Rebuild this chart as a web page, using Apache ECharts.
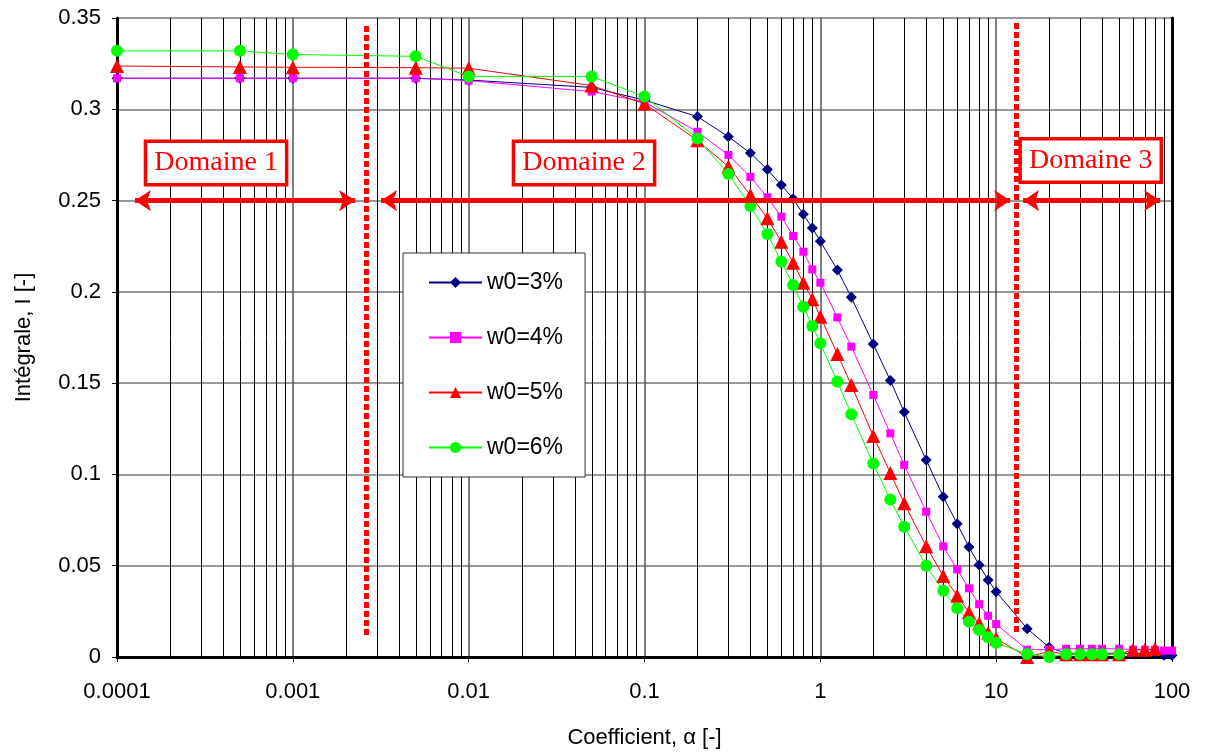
<!DOCTYPE html>
<html><head><meta charset="utf-8">
<script src="https://cdn.jsdelivr.net/npm/echarts@6/dist/echarts.min.js"></script>
<style>html,body{margin:0;padding:0;background:#fff}#c{width:1205px;height:756px}</style>
</head><body><div id="c"></div>
<script>
// ---- data ----
const alpha = [0.0001, 0.0005, 0.001, 0.005, 0.01, 0.05, 0.1, 0.2, 0.3, 0.4, 0.5, 0.6, 0.7, 0.8, 0.9, 1, 1.25, 1.5, 2, 2.5, 3, 4, 5, 6, 7, 8, 9, 10, 15, 20, 25, 30, 35, 40, 50, 60, 70, 80, 90, 100];
const w3 = [0.317, 0.317, 0.317, 0.317, 0.316, 0.312, 0.305, 0.296, 0.285, 0.276, 0.267, 0.2585, 0.251, 0.2425, 0.235, 0.2277, 0.212, 0.197, 0.1714, 0.1515, 0.1342, 0.1079, 0.0878, 0.073, 0.0603, 0.0504, 0.0422, 0.0358, 0.0155, 0.0054, 0.002, 0.002, 0.002, 0.002, 0.002, 0.002, 0.002, 0.002, 0.001, 0.001];
const w4 = [0.317, 0.317, 0.317, 0.317, 0.3157, 0.3097, 0.304, 0.2877, 0.275, 0.263, 0.2518, 0.2412, 0.2306, 0.222, 0.2123, 0.205, 0.186, 0.170, 0.1435, 0.1225, 0.1052, 0.0796, 0.0606, 0.048, 0.0376, 0.0289, 0.0226, 0.018, 0.004, 0.004, 0.0045, 0.0045, 0.0045, 0.0045, 0.0045, 0.004, 0.004, 0.004, 0.0035, 0.0035];
const w5 = [0.3237, 0.3232, 0.323, 0.3228, 0.3225, 0.313, 0.303, 0.283, 0.2686, 0.253, 0.2403, 0.2275, 0.216, 0.205, 0.196, 0.1864, 0.166, 0.149, 0.121, 0.1008, 0.0842, 0.0606, 0.0444, 0.0336, 0.0245, 0.0185, 0.0133, 0.0102, 0.0, 0.003, 0.0015, 0.0015, 0.0015, 0.0015, 0.0015, 0.004, 0.004, 0.0045];
const w6 = [0.332, 0.332, 0.330, 0.329, 0.318, 0.318, 0.307, 0.284, 0.2646, 0.247, 0.2317, 0.2165, 0.2038, 0.1919, 0.1813, 0.1718, 0.1508, 0.133, 0.106, 0.0862, 0.0714, 0.050, 0.0363, 0.0267, 0.0193, 0.0148, 0.0108, 0.0078, 0.0016, 0.0, 0.0015, 0.0015, 0.0015, 0.0015, 0.0015];
const seriesNames = ['w0=3%', 'w0=4%', 'w0=5%', 'w0=6%'];
const xTickLabels = ['0.0001', '0.001', '0.01', '0.1', '1', '10', '100'];
const decades = [0.0001, 0.001, 0.01, 0.1, 1, 10];
const minorMultipliers = [2, 3, 4, 5, 6, 7, 8, 9];
const boundaryX = [0.00261, 13.0];
const boundaryY = [[0.012, 0.3462], [0.0137, 0.3478]];
const domainLabels = ['Domaine 1', 'Domaine 2', 'Domaine 3'];
const domainLabelPos = [[0.000366, 0.2706], [0.0453, 0.2706], [34.5, 0.272]];
const arrowY = 0.25;
const arrowRanges = [[1.266e-4, 0.00226], [0.003176, 12.02], [14.24, 85.7]];

// ---- build ----
const pairs = vals => vals.map((v, i) => [alpha[i], v]);
const minorX = [];
decades.forEach(d => minorMultipliers.forEach(m => minorX.push(d * m)));

const font = 'Liberation Sans, Arial, sans-serif';
const styles = [
  {color: '#000080', symbol: 'diamond', size: 11},
  {color: '#FF00FF', symbol: 'rect', size: 8},
  {color: '#FF0000', symbol: 'triangle', size: 14},
  {color: '#00FF00', symbol: 'circle', size: 12}
];
const vals = [w3, w4, w5, w6];

const series = [
  { // minor vertical grid
    type: 'custom', z: 1, silent: true, clip: true,
    data: minorX.map(v => [v]),
    renderItem: (params, api) => {
      const p0 = api.coord([api.value(0), 0]);
      const p1 = api.coord([api.value(0), 0.35]);
      return {type: 'line', shape: {x1: Math.round(p0[0]) + 0.5, y1: p0[1], x2: Math.round(p1[0]) + 0.5, y2: p1[1]},
        style: {stroke: '#000', lineWidth: 1}};
    },
    encode: {x: 0}
  },
  { // domain boundaries
    type: 'line', data: [], z: 2, silent: true,
    markLine: {silent: true, animation: false, label: {show: false},
      symbol: 'none',
      lineStyle: {color: '#FF0000', width: 5, type: [6, 3], cap: 'butt'},
      data: boundaryX.map((b, i) => [{coord: [b, boundaryY[i][0]]}, {coord: [b, boundaryY[i][1]]}])}
  },
  { // arrows
    type: 'line', data: [], z: 2, silent: true,
    markLine: {silent: true, animation: false, label: {show: false},
      symbol: ['arrow', 'arrow'], symbolSize: [16, 16],
      lineStyle: {color: '#FF0000', width: 5, type: 'solid'},
      itemStyle: {color: '#FF0000'},
      data: arrowRanges.map(r => [{coord: [r[0], arrowY]}, {coord: [r[1], arrowY]}])}
  },
  { // domain labels
    type: 'line', data: [], z: 5, silent: true,
    markPoint: {silent: true, animation: false, symbol: 'rect', symbolSize: 1,
      itemStyle: {color: 'rgba(0,0,0,0)'},
      label: {show: true, position: 'inside', color: '#FF0000', fontFamily: 'Liberation Serif, Times New Roman, serif',
        fontSize: 28, lineHeight: 30, backgroundColor: '#fff', borderColor: '#FF0000', borderWidth: 3.5,
        padding: [5, 7], formatter: p => p.name},
      data: domainLabels.map((t, i) => ({name: t, coord: domainLabelPos[i]}))}
  }
];
vals.forEach((v, i) => {
  series.push({
    name: seriesNames[i], type: 'line', data: pairs(v), z: 3,
    symbol: styles[i].symbol, symbolSize: styles[i].size, showAllSymbol: true, clip: false,
    lineStyle: {color: styles[i].color, width: 1},
    itemStyle: {color: styles[i].color},
    emphasis: {disabled: true}
  });
});

const chart = echarts.init(document.getElementById('c'), null, {renderer: 'canvas'});
chart.setOption({
  animation: false,
  backgroundColor: '#fff',
  textStyle: {fontFamily: font},
  grid: {left: 117, right: 33, top: 18, bottom: 99, show: false},
  legend: {
    data: seriesNames, orient: 'vertical', left: 403, top: 253,
    itemWidth: 53, itemHeight: 14, itemGap: 32,
    padding: [18, 22, 18, 25], backgroundColor: '#fff', borderColor: '#333', borderWidth: 1,
    textStyle: {fontSize: 23, fontFamily: font, color: '#000', lineHeight: 22},
    selectedMode: false
  },
  xAxis: {
    type: 'log', logBase: 10, min: 0.0001, max: 100,
    name: 'Coefficient, α [-]', nameLocation: 'middle', nameGap: 70,
    nameTextStyle: {fontSize: 22, color: '#000', fontFamily: font},
    axisLine: {show: true, lineStyle: {color: '#000', width: 3}},
    axisTick: {show: true, length: 5, lineStyle: {color: '#000', width: 1}},
    axisLabel: {fontSize: 22, color: '#000', margin: 24, fontFamily: font,
      formatter: v => xTickLabels[Math.round(Math.log10(v)) + 4]},
    splitLine: {show: true, lineStyle: {color: '#555', width: 1.5}},
    minorTick: {show: false}, minorSplitLine: {show: false}
  },
  yAxis: [{
    type: 'value', min: 0, max: 0.35, interval: 0.05,
    name: 'Intégrale, I [-]', nameLocation: 'middle', nameGap: 82,
    nameTextStyle: {fontSize: 22, color: '#000', fontFamily: font},
    axisLine: {show: true, lineStyle: {color: '#000', width: 3}},
    axisTick: {show: true, length: 5, lineStyle: {color: '#000', width: 1}},
    axisLabel: {fontSize: 22, color: '#000', margin: 16, fontFamily: font},
    splitLine: {show: true, lineStyle: {color: '#777', width: 1.5}}
  }, {
    type: 'value', min: 0, max: 0.35, interval: 0.05, position: 'right',
    axisLine: {show: true, lineStyle: {color: '#000', width: 3}},
    axisTick: {show: false}, axisLabel: {show: false}, splitLine: {show: false}
  }],
  series: series
});
</script>
</body></html>
